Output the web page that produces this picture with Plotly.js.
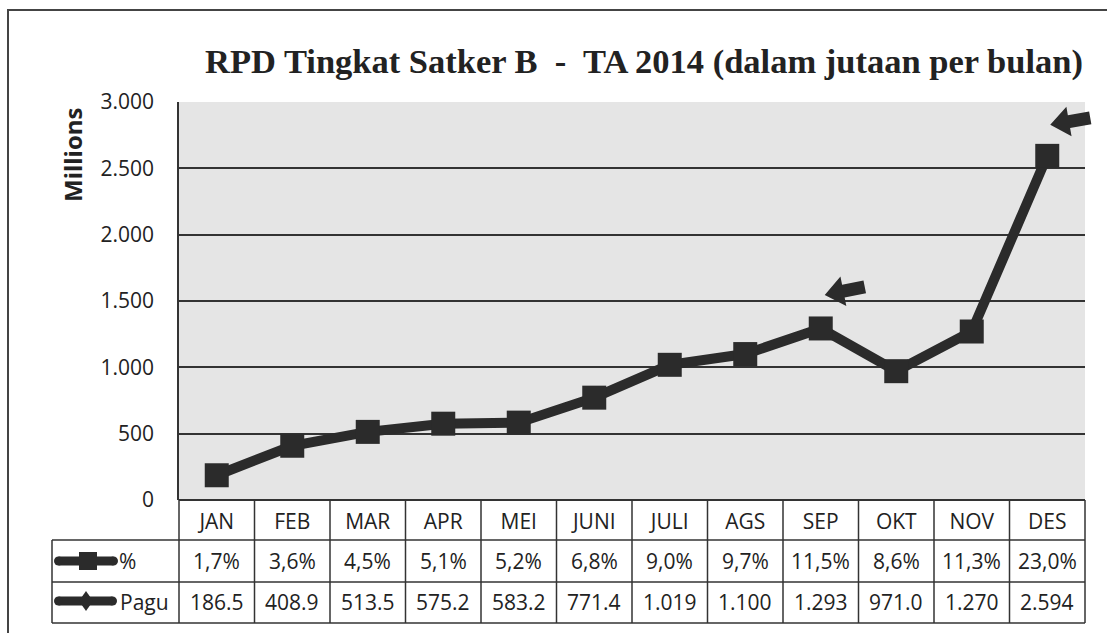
<!DOCTYPE html>
<html>
<head>
<meta charset="utf-8">
<script src="https://cdn.plot.ly/plotly-3.0.1.min.js"></script>
<style>html,body{margin:0;padding:0;background:#fff;}#chart{width:1107px;height:633px;}</style>
</head>
<body>
<div id="chart"></div>
<script>
const months = ['JAN','FEB','MAR','APR','MEI','JUNI','JULI','AGS','SEP','OKT','NOV','DES'];
const pagu = [186.5, 408.9, 513.5, 575.2, 583.2, 771.4, 1019, 1100, 1293, 971.0, 1270, 2594];
const pctLabels = ['1,7%','3,6%','4,5%','5,1%','5,2%','6,8%','9,0%','9,7%','11,5%','8,6%','11,3%','23,0%'];
const paguLabels = ['186.5','408.9','513.5','575.2','583.2','771.4','1.019','1.100','1.293','971.0','1.270','2.594'];
const yTicks = [0, 500, 1000, 1500, 2000, 2500, 3000];
const xRange = [-0.5, 11.5];
const yRange = [0, 3000];

const W = 1107, H = 633, L = 179, R = 1085, T = 102, B = 500;
const px = x => (x - L) / (R - L);
const py = y => (B - y) / (B - T);
const dark = '#2b2b2b';
const lineC = '#333333';
const idx = months.map((m, i) => i);

const shapes = [];
const annotations = [];
function hline(x0, x1, y, w) {
  shapes.push({type:'line', xref:'paper', yref:'paper', x0:px(x0), x1:px(x1), y0:py(y), y1:py(y), line:{color:lineC, width:w||1.5}, layer:'above'});
}
function vline(x, y0, y1, w) {
  shapes.push({type:'line', xref:'paper', yref:'paper', x0:px(x), x1:px(x), y0:py(y0), y1:py(y1), line:{color:lineC, width:w||1.5}, layer:'above'});
}
// outer frame
shapes.push({type:'rect', xref:'paper', yref:'paper', x0:px(8), x1:px(1112), y0:py(10), y1:py(645), line:{color:'#444', width:2}, fillcolor:'rgba(0,0,0,0)', layer:'below'});
// table grid
hline(L, R, 500, 2);
hline(52, R, 540);
hline(52, R, 582);
hline(52, R, 623);
vline(52, 540, 623);
for (let k = 0; k <= 12; k++) {
  vline(L + k * (R - L) / 12, 500, 623);
}
// legend icons
function roundLine(x0, x1, y, w) {
  shapes.push({type:'line', xref:'paper', yref:'paper', x0:px(x0 + w/2), x1:px(x1 - w/2), y0:py(y), y1:py(y), line:{color:dark, width:w}});
  [x0 + w/2, x1 - w/2].forEach(cx => shapes.push({type:'circle', xref:'paper', yref:'paper', x0:px(cx - w/2), x1:px(cx + w/2), y0:py(y - w/2), y1:py(y + w/2), line:{width:0}, fillcolor:dark}));
}
roundLine(54, 118, 561, 9);
shapes.push({type:'rect', xref:'paper', yref:'paper', x0:px(79), x1:px(97), y0:py(552), y1:py(570), line:{width:0}, fillcolor:dark});
roundLine(54, 117, 601, 9);
shapes.push({type:'path', xref:'paper', yref:'paper', path:`M ${px(86)} ${py(591)} L ${px(93)} ${py(601)} L ${px(86)} ${py(611)} L ${px(79)} ${py(601)} Z`, line:{width:0}, fillcolor:dark});

const cellFont = {family:'"Open Sans", Lato, sans-serif', size:21, color:'#222'};
annotations.push({xref:'paper', yref:'paper', x:px(117), y:py(561), xanchor:'left', yanchor:'middle', text:'%', showarrow:false, font:cellFont});
annotations.push({xref:'paper', yref:'paper', x:px(118), y:py(602), xanchor:'left', yanchor:'middle', text:'Pagu', showarrow:false, font:cellFont});
idx.forEach(i => {
  annotations.push({xref:'x', yref:'paper', x:i, y:py(561), xanchor:'center', yanchor:'middle', text:pctLabels[i], showarrow:false, font:cellFont});
  annotations.push({xref:'x', yref:'paper', x:i, y:py(602), xanchor:'center', yanchor:'middle', text:paguLabels[i], showarrow:false, font:cellFont});
});
// Millions label
annotations.push({xref:'paper', yref:'paper', x:px(72), y:py(155), xanchor:'center', yanchor:'middle', textangle:-90, text:'<b>Millions</b>', showarrow:false, font:{family:'"Open Sans", Lato, sans-serif', size:24, color:'#222'}});

// arrows: anchored at a data point, mapped through the axis ranges, drawn in paper coords (unclipped)
function arrowShape(i, tx, ty, dx, dy) {
  const ax = L + (i - xRange[0]) / (xRange[1] - xRange[0]) * (R - L);
  const ay = B - (pagu[i] - yRange[0]) / (yRange[1] - yRange[0]) * (B - T);
  const len = Math.hypot(dx, dy);
  const ux = dx / len, uy = dy / len, nx = -uy, ny = ux;
  const headLen = 19, headHalf = 15, bodyHalf = 6.5;
  const pts = [
    [0, 0],
    [headLen * ux + headHalf * nx, headLen * uy + headHalf * ny],
    [headLen * ux + bodyHalf * nx, headLen * uy + bodyHalf * ny],
    [len * ux + bodyHalf * nx, len * uy + bodyHalf * ny],
    [len * ux - bodyHalf * nx, len * uy - bodyHalf * ny],
    [headLen * ux - bodyHalf * nx, headLen * uy - bodyHalf * ny],
    [headLen * ux - headHalf * nx, headLen * uy - headHalf * ny]
  ].map(p => [px(ax + tx + p[0]).toFixed(5), py(ay + ty + p[1]).toFixed(5)]);
  return {type:'path', xref:'paper', yref:'paper', path:'M ' + pts.map(p => p[0] + ' ' + p[1]).join(' L ') + ' Z', line:{width:0}, fillcolor:dark, layer:'above'};
}
shapes.push(arrowShape(8, 4, -33.5, 40, -8));
shapes.push(arrowShape(11, 3, -31, 40, -7));

const trace = {
  x: idx, y: pagu, type:'scatter', mode:'lines+markers',
  line:{color:dark, width:10},
  marker:{symbol:'square', size:24, color:dark},
  hoverinfo:'skip', cliponaxis:false
};

const layout = {
  width:W, height:H,
  margin:{l:L, r:W-R, t:T, b:H-B},
  paper_bgcolor:'#ffffff',
  plot_bgcolor:'#e5e5e5',
  separators:',.',
  showlegend:false,
  title:{text:'<b>RPD Tingkat Satker B \u00a0-\u00a0 TA 2014 (dalam jutaan per bulan)</b>', font:{family:'"Liberation Serif", serif', size:34.5, color:'#222'}, x:px(644), xanchor:'center', y:1-61/H, yanchor:'middle', xref:'paper'},
  xaxis:{range:xRange, tickvals:idx, ticktext:months, showgrid:false, zeroline:false, showline:false, ticks:'', ticklabelstandoff:7, tickfont:cellFont, fixedrange:true},
  yaxis:{range:yRange, tickvals:yTicks, separatethousands:true, tickformat:',d', showgrid:true, gridcolor:lineC, gridwidth:1.8, zeroline:false, showline:true, linecolor:lineC, linewidth:1.8, ticks:'', ticklabelstandoff:19, tickfont:cellFont, fixedrange:true},
  shapes:shapes,
  annotations:annotations
};
Plotly.newPlot('chart', [trace], layout, {displayModeBar:false, staticPlot:true});
</script>
</body>
</html>
